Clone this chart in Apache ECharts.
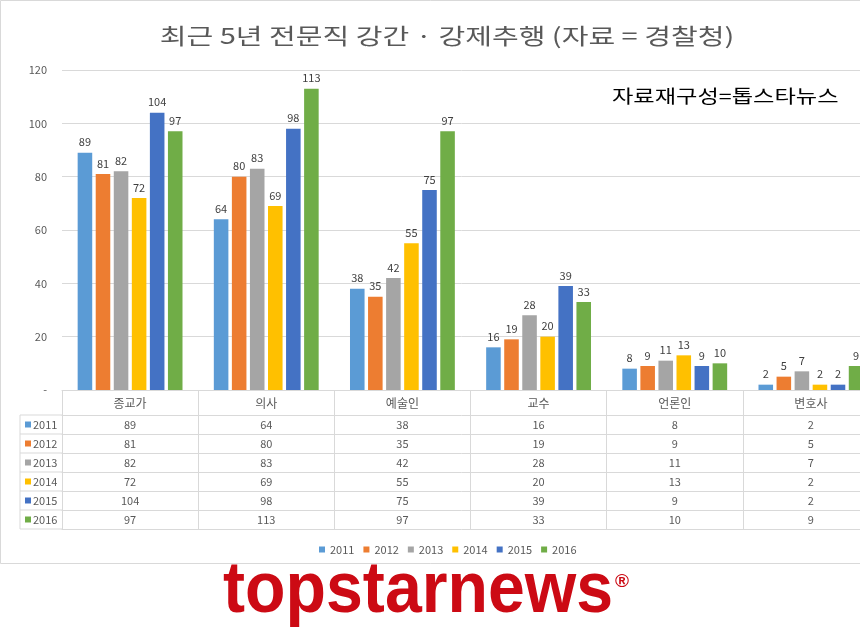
<!DOCTYPE html>
<html><head><meta charset="utf-8">
<script src="https://cdn.jsdelivr.net/npm/echarts@6/dist/echarts.min.js"></script>
<style>html,body{margin:0;padding:0;background:#fff}#c{width:860px;height:629px}</style>
</head><body><div id="c"></div>
<script>
const categories = ['종교가', '의사', '예술인', '교수', '언론인', '변호사'];
const years = ['2011', '2012', '2013', '2014', '2015', '2016'];
const colors = ['#5B9BD5', '#ED7D31', '#A5A5A5', '#FFC000', '#4472C4', '#70AD47'];
const v2011 = [89, 64, 38, 16, 8, 2];
const v2012 = [81, 80, 35, 19, 9, 5];
const v2013 = [82, 83, 42, 28, 11, 7];
const v2014 = [72, 69, 55, 20, 13, 2];
const v2015 = [104, 98, 75, 39, 9, 2];
const v2016 = [97, 113, 97, 33, 10, 9];
const seriesValues = [v2011, v2012, v2013, v2014, v2015, v2016];
const yTicks = [0, 20, 40, 60, 80, 100, 120];
const titleText = '최근 5년 전문직 강간 · 강제추행 (자료 = 경찰청)';
const sourceText = '자료재구성=톱스타뉴스';
const logoText = 'topstarnews';

const FONT = '"Noto Sans CJK KR", "Noto Sans", sans-serif';
const GRID_L = 62, GRID_T = 70, GRID_H = 320, GRID_W = 817;
const BASE = GRID_T + GRID_H;
const HEAD_H = 25, ROW_H = 19;
const LINE = '#D9D9D9', TXT = '#595959', LOGO = '#CC0A14';

const chart = echarts.init(document.getElementById('c'));

const xAxes = [{
  type: 'category', data: categories, gridIndex: 0, position: 'bottom',
  axisLine: { show: true, lineStyle: { color: LINE } },
  axisTick: { show: true, interval: 0, length: HEAD_H, lineStyle: { color: LINE } },
  axisLabel: { interval: 0, margin: 7, color: TXT, fontSize: 12, lineHeight: 12, fontFamily: FONT }
}];
seriesValues.forEach((vals, i) => {
  xAxes.push({
    type: 'category', data: vals.map(String), gridIndex: 0, position: 'bottom',
    offset: HEAD_H + ROW_H * i,
    axisLine: { show: true, lineStyle: { color: LINE } },
    axisTick: { show: true, interval: 0, length: ROW_H, lineStyle: { color: LINE } },
    axisLabel: { interval: 0, margin: 4, color: TXT, fontSize: 11, lineHeight: 11, fontFamily: FONT }
  });
});
xAxes.push({
  type: 'category', data: categories, gridIndex: 0, position: 'bottom',
  offset: HEAD_H + ROW_H * seriesValues.length,
  axisLine: { show: true, lineStyle: { color: LINE } },
  axisTick: { show: false }, axisLabel: { show: false }
});

const graphics = [
  { type: 'rect', silent: true, z: -10, shape: { x: 0.5, y: 0.5, width: 900, height: 563 },
    style: { fill: 'none', stroke: LINE, lineWidth: 1 } },
  { type: 'text', x: 447, y: 36, scaleX: 1.32,
    style: { text: titleText, font: '22px ' + FONT, fill: TXT, textAlign: 'center', textVerticalAlign: 'middle' } },
  { type: 'text', x: 612, y: 96, scaleX: 1.29,
    style: { text: sourceText, font: '18px ' + FONT, fill: '#000', textAlign: 'left', textVerticalAlign: 'middle' } },
  { type: 'text', x: 223, y: 592, scaleX: 0.92,
    style: { text: logoText, font: 'bold 72px "Liberation Sans", Arial, sans-serif', fill: LOGO, textAlign: 'left', textVerticalAlign: 'middle' } },
  { type: 'text', x: 615, y: 582,
    style: { text: '®', font: 'bold 19px "Liberation Sans", Arial, sans-serif', fill: LOGO, textAlign: 'left', textVerticalAlign: 'middle' } },
  { type: 'line', shape: { x1: 20, y1: BASE + HEAD_H, x2: 20, y2: BASE + HEAD_H + ROW_H * years.length },
    style: { stroke: LINE, lineWidth: 1 } }
];
for (let i = 0; i <= years.length; i++) {
  const y = BASE + HEAD_H + ROW_H * i;
  graphics.push({ type: 'line', shape: { x1: 20, y1: y, x2: GRID_L, y2: y }, style: { stroke: LINE, lineWidth: 1 } });
}
years.forEach((yr, i) => {
  const cy = BASE + HEAD_H + ROW_H * i + ROW_H / 2;
  graphics.push({ type: 'rect', shape: { x: 25, y: cy - 3, width: 6, height: 6 }, style: { fill: colors[i] } });
  graphics.push({ type: 'text', x: 33, y: cy,
    style: { text: yr, font: '11px ' + FONT, fill: TXT, textAlign: 'left', textVerticalAlign: 'middle' } });
});

const option = {
  backgroundColor: '#fff',
  animation: false,
  color: colors,
  textStyle: { fontFamily: FONT },
  grid: { left: GRID_L, top: GRID_T, width: GRID_W, height: GRID_H, containLabel: false, outerBoundsMode: 'none' },
  legend: {
    data: years, left: 314, top: 539, itemWidth: 6, itemHeight: 6, itemGap: 9, icon: 'rect',
    textStyle: { color: TXT, fontSize: 11, fontFamily: FONT }
  },
  xAxis: xAxes,
  yAxis: {
    type: 'value', min: yTicks[0], max: yTicks[yTicks.length - 1], interval: yTicks[1] - yTicks[0],
    axisLine: { show: false }, axisTick: { show: false },
    axisLabel: { margin: 15, color: TXT, fontSize: 11, fontFamily: FONT,
      formatter: v => (v === 0 ? '-' : String(v)) },
    splitLine: { lineStyle: { color: LINE } }
  },
  series: seriesValues.map((vals, i) => ({
    name: years[i], type: 'bar', xAxisIndex: 0, data: vals,
    barGap: '24%', barCategoryGap: '23%',
    itemStyle: { color: colors[i] },
    label: { show: true, position: 'top', distance: 5, color: '#404040', fontSize: 11, fontFamily: FONT }
  })),
  graphic: graphics
};
chart.setOption(option);
</script></body></html>
